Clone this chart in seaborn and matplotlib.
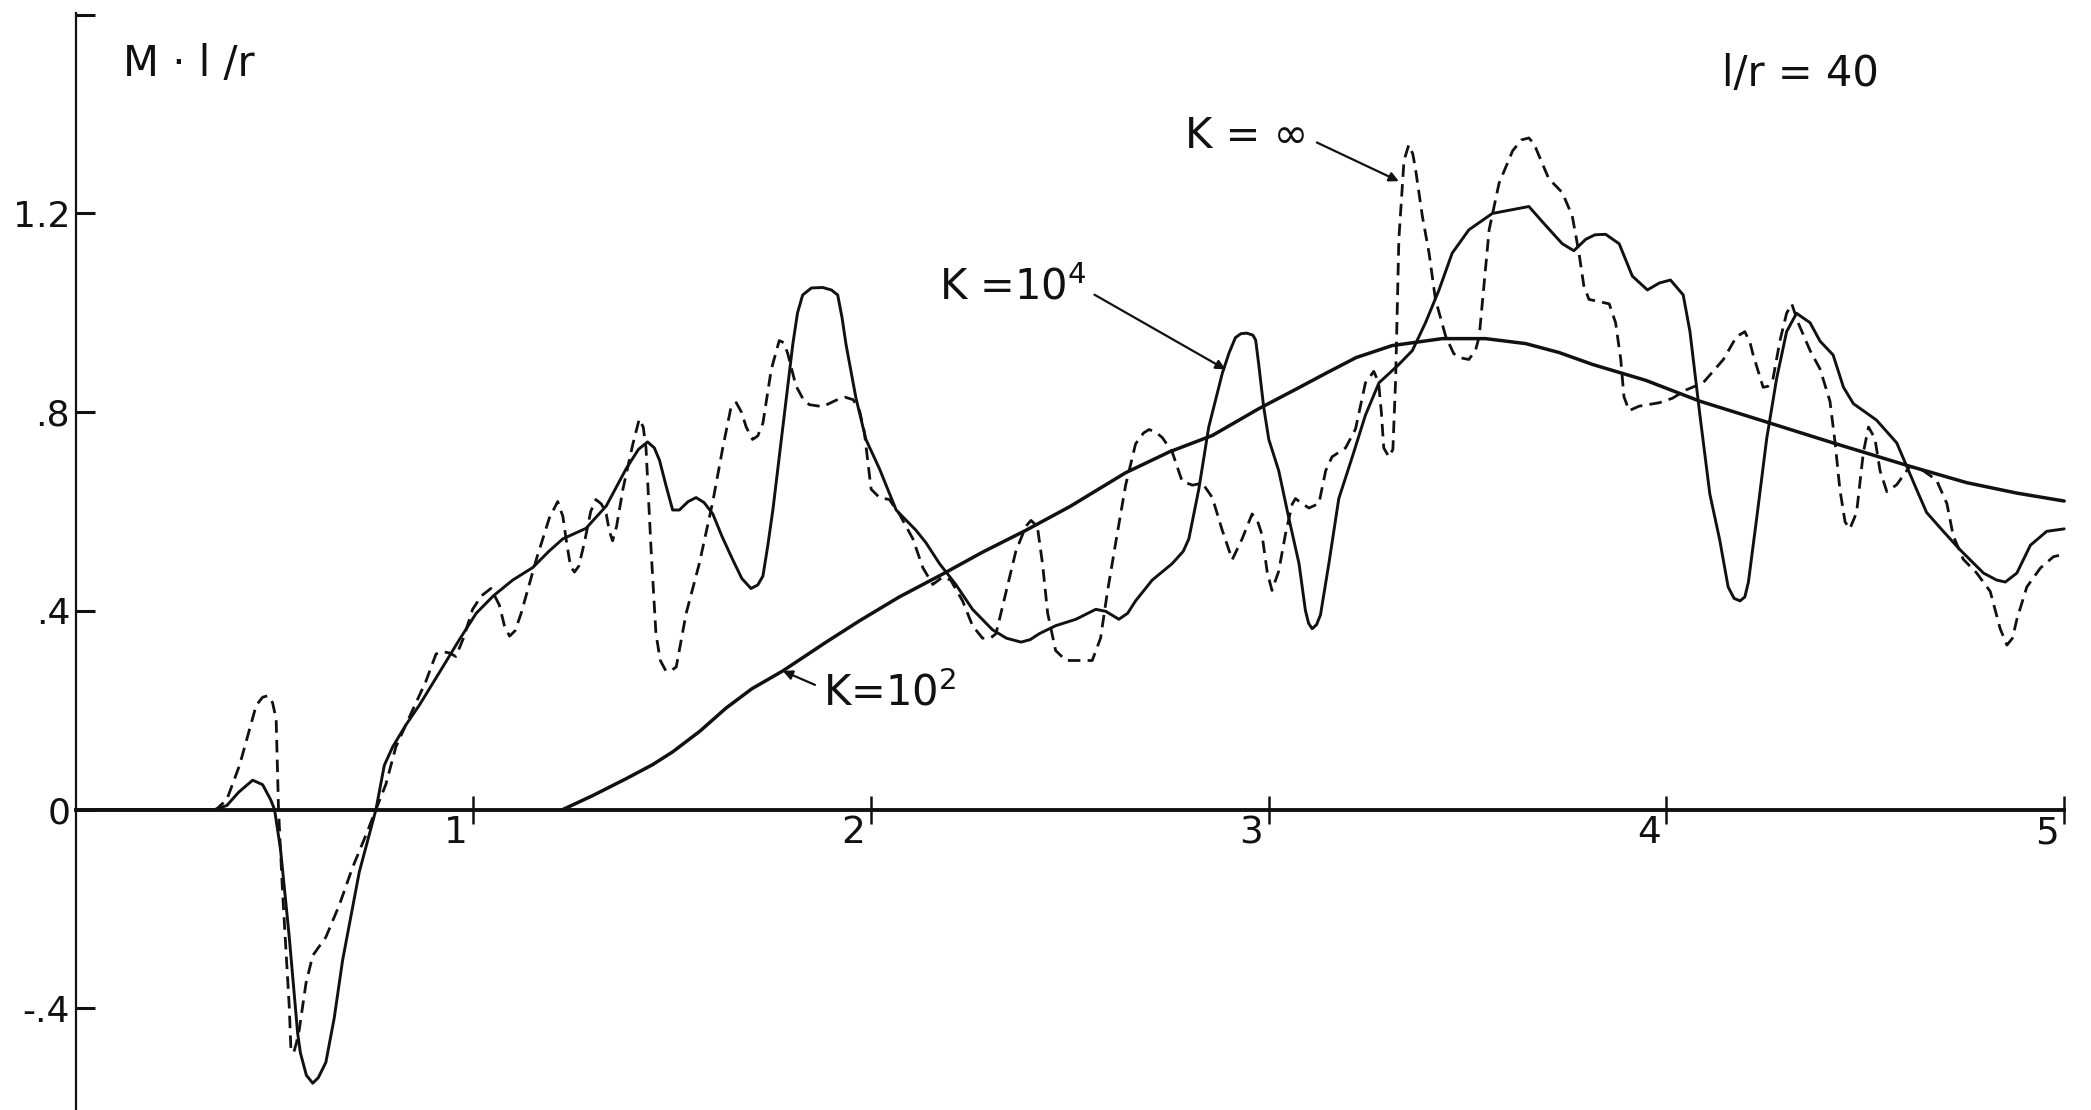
import matplotlib
matplotlib.use("Agg")
import matplotlib.pyplot as plt
from matplotlib.transforms import ScaledTranslation
import seaborn as sns
import pandas as pd

# ---- data: moment M·l/r along the member for three stiffness values ----
k4_x = [0.0, 0.35, 0.38, 0.41, 0.445, 0.47, 0.49, 0.50, 0.515, 0.537, 0.558, 0.565, 0.58,
        0.596, 0.61, 0.629, 0.65, 0.671, 0.713, 0.755, 0.776, 0.797, 0.83, 0.864, 0.91,
        0.964, 1.007, 1.05, 1.099, 1.149, 1.19, 1.225, 1.283, 1.334, 1.384, 1.415, 1.438,
        1.455, 1.468, 1.485, 1.501, 1.518, 1.54, 1.56, 1.58, 1.602, 1.625, 1.652, 1.675,
        1.698, 1.715, 1.728, 1.74, 1.753, 1.778, 1.803, 1.815, 1.828, 1.85, 1.878, 1.90,
        1.916, 1.927, 1.937, 1.962, 1.987, 2.021, 2.063, 2.113, 2.138, 2.172, 2.213, 2.255,
        2.305, 2.34, 2.377, 2.40, 2.423, 2.464, 2.515, 2.565, 2.59, 2.623, 2.645, 2.665,
        2.707, 2.757, 2.785, 2.799, 2.824, 2.849, 2.883, 2.90, 2.916, 2.93, 2.945, 2.96,
        2.967, 2.975, 2.987, 3.0, 3.025, 3.05, 3.076, 3.092, 3.10, 3.109, 3.12, 3.13,
        3.151, 3.176, 3.21, 3.243, 3.277, 3.327, 3.361, 3.394, 3.428, 3.461, 3.503, 3.562,
        3.621, 3.654, 3.696, 3.738, 3.767, 3.797, 3.82, 3.847, 3.881, 3.914, 3.952, 3.982,
        4.01, 4.042, 4.059, 4.084, 4.109, 4.134, 4.155, 4.17, 4.185, 4.197, 4.206, 4.227,
        4.252, 4.277, 4.302, 4.327, 4.361, 4.386, 4.419, 4.445, 4.47, 4.528, 4.579, 4.604,
        4.629, 4.654, 4.696, 4.738, 4.797, 4.83, 4.852, 4.881, 4.915, 4.956, 5.0]
k4_y = [0.0, 0.0, 0.008, 0.035, 0.059, 0.05, 0.02, 0.0, -0.08, -0.257, -0.45, -0.49, -0.535,
        -0.551, -0.54, -0.509, -0.42, -0.304, -0.126, 0.0, 0.089, 0.126, 0.17, 0.21, 0.27,
        0.341, 0.395, 0.43, 0.462, 0.487, 0.52, 0.545, 0.566, 0.611, 0.686, 0.725, 0.74,
        0.728, 0.703, 0.65, 0.603, 0.603, 0.62, 0.628, 0.618, 0.595, 0.55, 0.503, 0.465,
        0.445, 0.452, 0.47, 0.53, 0.603, 0.77, 0.936, 1.0, 1.036, 1.05, 1.051, 1.046,
        1.036, 0.99, 0.936, 0.828, 0.745, 0.686, 0.603, 0.562, 0.537, 0.495, 0.453, 0.403,
        0.362, 0.345, 0.337, 0.342, 0.354, 0.37, 0.383, 0.403, 0.399, 0.383, 0.395, 0.42,
        0.462, 0.495, 0.52, 0.545, 0.645, 0.77, 0.878, 0.919, 0.95, 0.958, 0.959, 0.955,
        0.945, 0.894, 0.811, 0.745, 0.682, 0.588, 0.495, 0.401, 0.375, 0.364, 0.372, 0.392,
        0.495, 0.626, 0.71, 0.794, 0.859, 0.896, 0.924, 0.98, 1.046, 1.12, 1.167, 1.2,
        1.209, 1.214, 1.176, 1.139, 1.125, 1.148, 1.157, 1.158, 1.139, 1.074, 1.046, 1.06,
        1.066, 1.036, 0.962, 0.794, 0.635, 0.542, 0.448, 0.425, 0.42, 0.428, 0.458, 0.588,
        0.747, 0.868, 0.962, 0.999, 0.98, 0.943, 0.915, 0.85, 0.817, 0.784, 0.738, 0.691,
        0.644, 0.598, 0.56, 0.523, 0.476, 0.462, 0.458, 0.476, 0.532, 0.56, 0.565]

kinf_x = [0.0, 0.353, 0.38, 0.412, 0.454, 0.47, 0.483, 0.495, 0.504, 0.51, 0.52, 0.537, 0.541,
          0.548, 0.555, 0.562, 0.579, 0.596, 0.629, 0.663, 0.696, 0.73, 0.755, 0.78, 0.805,
          0.847, 0.88, 0.906, 0.922, 0.94, 0.956, 0.975, 0.998, 1.02, 1.044, 1.065, 1.078,
          1.091, 1.105, 1.12, 1.158, 1.191, 1.212, 1.225, 1.233, 1.244, 1.254, 1.265, 1.279,
          1.295, 1.308, 1.322, 1.334, 1.342, 1.35, 1.36, 1.376, 1.401, 1.417, 1.427, 1.434,
          1.447, 1.459, 1.47, 1.484, 1.498, 1.51, 1.52, 1.535, 1.568, 1.602, 1.627, 1.648,
          1.661, 1.674, 1.686, 1.702, 1.715, 1.728, 1.749, 1.769, 1.78, 1.79, 1.811, 1.83,
          1.845, 1.878, 1.912, 1.935, 1.955, 1.971, 1.983, 1.992, 2.0, 2.021, 2.046, 2.071,
          2.105, 2.13, 2.155, 2.18, 2.2, 2.23, 2.255, 2.28, 2.3, 2.314, 2.339, 2.364, 2.389,
          2.402, 2.418, 2.431, 2.444, 2.464, 2.49, 2.556, 2.577, 2.594, 2.615, 2.64, 2.665,
          2.685, 2.699, 2.715, 2.732, 2.757, 2.782, 2.808, 2.833, 2.858, 2.883, 2.908, 2.933,
          2.958, 2.972, 2.983, 2.996, 3.008, 3.025, 3.042, 3.059, 3.067, 3.085, 3.101, 3.126,
          3.143, 3.159, 3.193, 3.218, 3.243, 3.264, 3.276, 3.283, 3.289, 3.302, 3.312, 3.319,
          3.327, 3.34, 3.352, 3.362, 3.369, 3.386, 3.403, 3.419, 3.445, 3.465, 3.478, 3.503,
          3.52, 3.529, 3.541, 3.554, 3.579, 3.613, 3.635, 3.654, 3.667, 3.679, 3.704, 3.738,
          3.763, 3.78, 3.792, 3.805, 3.856, 3.872, 3.885, 3.893, 3.906, 3.931, 3.982, 4.015,
          4.05, 4.092, 4.143, 4.176, 4.197, 4.21, 4.218, 4.243, 4.255, 4.268, 4.285, 4.302,
          4.315, 4.331, 4.361, 4.386, 4.411, 4.424, 4.436, 4.449, 4.461, 4.478, 4.495, 4.508,
          4.524, 4.537, 4.554, 4.579, 4.612, 4.646, 4.679, 4.705, 4.721, 4.746, 4.78, 4.814,
          4.839, 4.856, 4.87, 4.881, 4.906, 4.94, 4.973, 5.0]
kinf_y = [0.0, 0.0, 0.02, 0.089, 0.21, 0.226, 0.229, 0.215, 0.182, 0.0, -0.164, -0.397, -0.481,
          -0.49, -0.47, -0.444, -0.35, -0.294, -0.257, -0.192, -0.117, -0.051, 0.0, 0.051, 0.126,
          0.2, 0.257, 0.313, 0.318, 0.315, 0.308, 0.345, 0.403, 0.43, 0.445, 0.412, 0.37,
          0.349, 0.36, 0.395, 0.503, 0.587, 0.62, 0.59, 0.545, 0.49, 0.478, 0.49, 0.537,
          0.6, 0.624, 0.615, 0.595, 0.56, 0.541, 0.57, 0.645, 0.736, 0.786, 0.77, 0.728,
          0.52, 0.354, 0.3, 0.279, 0.28, 0.287, 0.33, 0.395, 0.495, 0.62, 0.728, 0.811,
          0.819, 0.8, 0.77, 0.745, 0.752, 0.778, 0.886, 0.944, 0.94, 0.919, 0.853, 0.825,
          0.815, 0.811, 0.824, 0.83, 0.825, 0.803, 0.76, 0.7, 0.645, 0.628, 0.624, 0.595,
          0.545, 0.487, 0.453, 0.468, 0.462, 0.42, 0.37, 0.345, 0.345, 0.354, 0.437, 0.52, 0.57,
          0.582, 0.57, 0.495, 0.395, 0.32, 0.3, 0.3, 0.345, 0.437, 0.537, 0.653, 0.736,
          0.758, 0.765, 0.76, 0.749, 0.72, 0.661, 0.653, 0.657, 0.628, 0.562, 0.503, 0.545,
          0.595, 0.58, 0.553, 0.478, 0.441, 0.48, 0.555, 0.615, 0.626, 0.615, 0.607, 0.616,
          0.682, 0.71, 0.728, 0.766, 0.859, 0.882, 0.86, 0.8, 0.728, 0.71, 0.725, 0.868,
          1.148, 1.307, 1.338, 1.32, 1.289, 1.195, 1.12, 1.027, 0.952, 0.918, 0.91, 0.906,
          0.925, 0.952, 1.055, 1.167, 1.261, 1.326, 1.348, 1.352, 1.34, 1.317, 1.27, 1.242,
          1.195, 1.12, 1.055, 1.027, 1.018, 0.98, 0.906, 0.831, 0.803, 0.812, 0.819, 0.828,
          0.845, 0.859, 0.906, 0.952, 0.962, 0.94, 0.915, 0.85, 0.852, 0.868, 0.943, 0.999,
          1.018, 0.98, 0.924, 0.887, 0.822, 0.738, 0.644, 0.579, 0.565, 0.598, 0.719, 0.77,
          0.747, 0.682, 0.64, 0.654, 0.691, 0.682, 0.663, 0.616, 0.551, 0.504, 0.476, 0.439,
          0.364, 0.331, 0.345, 0.383, 0.448, 0.486, 0.509, 0.514]

k2_x = [1.225, 1.30, 1.384, 1.45, 1.501, 1.57, 1.635, 1.70, 1.778, 1.887, 1.971, 2.071, 2.18,
        2.28, 2.389, 2.5, 2.64, 2.75, 2.858, 2.975, 3.075, 3.143, 3.22, 3.31, 3.436, 3.545,
        3.646, 3.73, 3.814, 3.948, 4.084, 4.252, 4.419, 4.612, 4.755, 4.881, 5.0]
k2_y = [0.0, 0.028, 0.062, 0.09, 0.116, 0.158, 0.204, 0.243, 0.279, 0.337, 0.38, 0.428, 0.474,
        0.518, 0.562, 0.61, 0.678, 0.72, 0.753, 0.807, 0.849, 0.878, 0.91, 0.934, 0.948, 0.948,
        0.938, 0.92, 0.896, 0.864, 0.822, 0.78, 0.738, 0.691, 0.658, 0.637, 0.621]

x_ticks = [1, 2, 3, 4, 5]
x_labels = ["1", "2", "3", "4", "5"]
y_ticks = [1.6, 1.2, 0.8, 0.4, 0.0, -0.4]
y_labels = ["", "1.2", ".8", ".4", "0", "-.4"]

# ---- figure ----
sns.set_theme(style="white")
plt.rcParams["font.family"] = ["DejaVu Sans"]
plt.rcParams["mathtext.fontset"] = "dejavusans"

W, H = 2091, 1110
fig = plt.figure(figsize=(W / 100, H / 100), dpi=100)
px_per_unit_x = 397.7
px_per_unit_y = 496.7
x0_px = 75.7
zero_px = 809.5
x_max = 5.05
y_top = zero_px / px_per_unit_y
y_bot = -(H - zero_px) / px_per_unit_y
ax = fig.add_axes([x0_px / W, 0, x_max * px_per_unit_x / W, 1])
ax.set_xlim(0, x_max)
ax.set_ylim(y_bot, y_top)

ink = "#111111"
df4 = pd.DataFrame({"x": k4_x, "y": k4_y})
dfi = pd.DataFrame({"x": kinf_x, "y": kinf_y})
df2 = pd.DataFrame({"x": k2_x, "y": k2_y})

sns.lineplot(data=dfi, x="x", y="y", ax=ax, color=ink, linewidth=2.0,
             linestyle=(0, (4.5, 2.6)), estimator=None, sort=False)
sns.lineplot(data=df4, x="x", y="y", ax=ax, color=ink, linewidth=2.1,
             estimator=None, sort=False)
sns.lineplot(data=df2, x="x", y="y", ax=ax, color=ink, linewidth=2.5,
             estimator=None, sort=False)

# axes drawn as on the hand-lettered plate
for s in ["top", "right"]:
    ax.spines[s].set_visible(False)
ax.spines["bottom"].set_position(("data", 0))
ax.spines["bottom"].set_bounds(0, 5.0)
ax.spines["bottom"].set_linewidth(2.8)
ax.spines["bottom"].set_color(ink)
ax.spines["bottom"].set_zorder(1)
ax.spines["left"].set_bounds(y_bot, 1.603)
ax.spines["left"].set_linewidth(1.6)
ax.spines["left"].set_color(ink)

ax.set_xticks(x_ticks)
ax.set_xticklabels(x_labels)
ax.set_yticks(y_ticks)
ax.set_yticklabels(y_labels)
ax.tick_params(axis="x", bottom=True, direction="inout", length=20, width=1.8,
               colors=ink, labelsize=27, pad=-6)
ax.tick_params(axis="y", left=True, direction="in", length=14, width=2.2,
               colors=ink, labelsize=26, pad=4)
for lab in ax.get_xticklabels():
    lab.set_horizontalalignment("right")
    lab.set_transform(lab.get_transform() + ScaledTranslation(-4 / 72, 0, fig.dpi_scale_trans))
ax.set_xlabel("")
ax.set_ylabel("")
ax.grid(False)

# captions
fs = 30
ax.text(0.12, 1.50, "M · l /r", fontsize=fs, ha="left", va="center", color=ink)
ax.text(4.14, 1.48, "l/r = 40", fontsize=fs, ha="left", va="center", color=ink)

arrow = dict(arrowstyle="-|>", color=ink, lw=1.6, mutation_scale=14,
             shrinkA=4, shrinkB=0)
ax.annotate("K = ∞", xy=(3.327, 1.265), xytext=(2.79, 1.355), fontsize=fs,
            ha="left", va="center", color=ink,
            arrowprops=dict(arrow, relpos=(1.0, 0.45)))
ax.annotate(r"K =10$^4$", xy=(2.891, 0.886), xytext=(2.17, 1.05), fontsize=fs,
            ha="left", va="center", color=ink,
            arrowprops=dict(arrow, relpos=(1.0, 0.45)))
ax.annotate(r"K=10$^2$", xy=(1.778, 0.279), xytext=(1.88, 0.235), fontsize=fs,
            ha="left", va="center", color=ink,
            arrowprops=dict(arrow, relpos=(0.0, 0.6)))

fig.savefig("out.png", dpi=100, facecolor="white")
